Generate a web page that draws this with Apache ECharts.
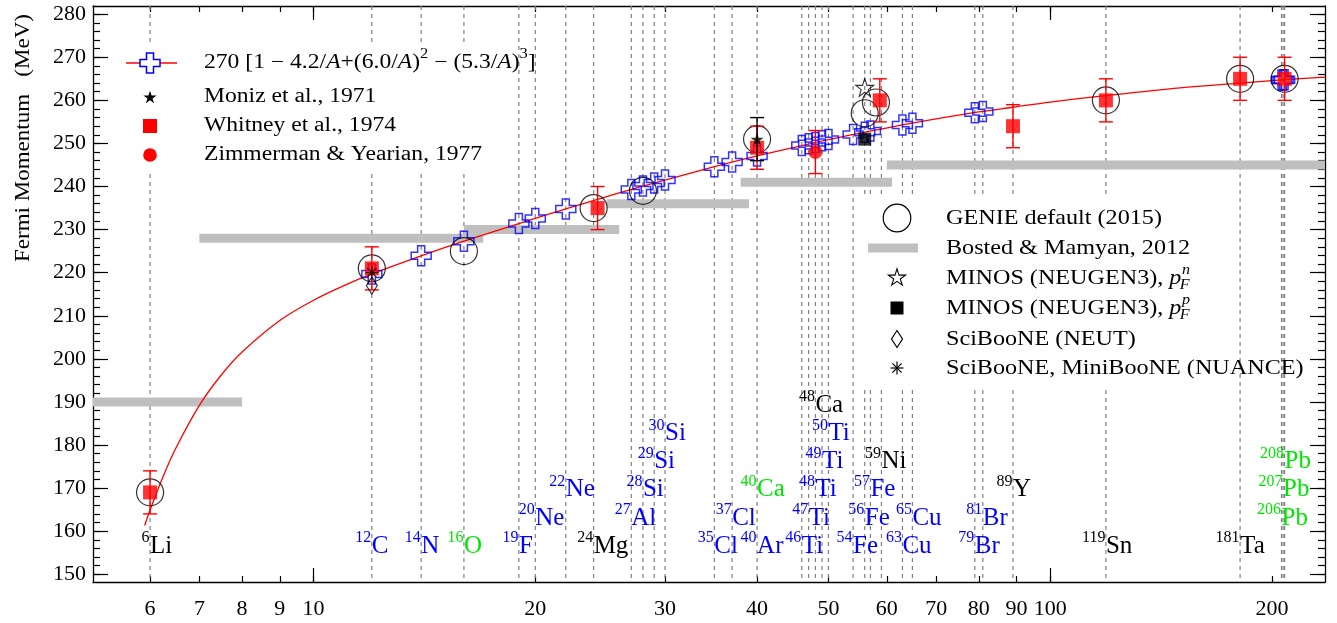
<!DOCTYPE html>
<html>
<head>
<meta charset="utf-8">
<title>Fermi momentum vs mass number</title>
<script src="https://cdn.jsdelivr.net/npm/echarts@6/dist/echarts.min.js"></script>
<style>
  html, body { margin: 0; padding: 0; background: #ffffff; }
  #chart { width: 1337px; height: 623px; }
</style>
</head>
<body>
<div id="chart"></div>
<script>
// ---------------- data ----------------
// nuclei marked along the mass-number axis
const isoA    = [6, 12, 14, 16, 19, 20, 22, 24, 27, 28, 29, 30, 35, 37, 40, 40, 46, 47, 48, 48, 49, 50, 54, 56, 57, 59, 63, 65, 79, 81, 89, 119, 181, 206, 207, 208];
const isoSym  = ['Li','C','N','O','F','Ne','Ne','Mg','Al','Si','Si','Si','Cl','Cl','Ar','Ca','Ti','Ti','Ti','Ca','Ti','Ti','Fe','Fe','Fe','Ni','Cu','Cu','Br','Br','Y','Sn','Ta','Pb','Pb','Pb'];
const isoKind = ['measured','fitted','fitted','reference','fitted','fitted','fitted','measured','fitted','fitted','fitted','fitted','fitted','fitted','fitted','reference','fitted','fitted','fitted','measured','fitted','fitted','fitted','fitted','fitted','measured','fitted','fitted','fitted','fitted','measured','measured','measured','reference','reference','reference'];

// parametrisation 270 [1 - 4.2/A + (6.0/A)^2 - (5.3/A)^3], sampled values
const fitCurveA = [5.9, 6, 6.25, 6.5, 7, 7.5, 8, 9, 10, 11, 12, 14, 16, 19, 22, 26, 30, 35, 40, 46, 50, 56, 63, 70, 80, 89, 100, 119, 150, 181, 208, 236];
const fitCurveP = [161.3, 164.9, 172.7, 179.2, 189.2, 196.3, 201.6, 208.9, 213.6, 217.0, 219.7, 223.9, 227.3, 231.4, 234.8, 238.5, 241.5, 244.6, 247.1, 249.5, 250.9, 252.6, 254.3, 255.7, 257.3, 258.4, 259.6, 261.1, 262.9, 264.0, 264.8, 265.4];

// parametrisation evaluated at individual nuclei
const fitNucA = [12, 14, 16, 19, 20, 22, 27, 28, 29, 30, 35, 37, 40, 46, 47, 48, 49, 50, 54, 56, 57, 63, 65, 79, 81, 206, 207, 208];
const fitNucP = [219.7, 223.9, 227.3, 231.4, 232.6, 234.8, 239.3, 240.1, 240.8, 241.5, 244.6, 245.7, 247.1, 249.5, 249.9, 250.2, 250.6, 250.9, 252.1, 252.6, 252.9, 254.3, 254.7, 257.1, 257.4, 264.7, 264.7, 264.8];

// Moniz et al., 1971
const monizA = [40];
const monizP = [251];
const monizErr = [5];

// Whitney et al., 1974
const whitneyA   = [6, 12, 24.3, 40, 58.7, 89, 119, 181, 208];
const whitneyP   = [169, 221, 235, 249, 260, 254, 260, 265, 265];
const whitneyErr = [5, 5, 5, 5, 5, 5, 5, 5, 5];

// Zimmerman & Yearian, 1977
const zimmermanA = [48];
const zimmermanP = [248];
const zimmermanErr = [5];

// GENIE default (2015)
const genieA = [6, 12, 16, 24, 28, 40, 56, 58, 119, 181, 208];
const genieP = [169, 221, 225, 235, 239, 251, 257, 259.5, 260, 265, 265];

// Bosted & Mamyan, 2012 (mass-number ranges)
const bostedFromA = [5, 7, 16, 25, 38, 60];
const bostedToA   = [8, 17, 26, 39, 61, 240];
const bostedP     = [190, 228, 230, 236, 241, 245];

// MINOS (NEUGEN3)
const minosNA = [56], minosNP = [263];
const minosPA = [56], minosPP = [251];

// SciBooNE (NEUT) and SciBooNE, MiniBooNE (NUANCE)
const neutA = [12], neutP = [217];
const nuanceA = [12], nuanceP = [220];

// axis ticks
const xTickLabels = [6, 7, 8, 9, 10, 20, 30, 40, 50, 60, 70, 80, 90, 100, 200];
const xDecadeTicks = [10, 100];
const yTickLabels = [150, 160, 170, 180, 190, 200, 210, 220, 230, 240, 250, 260, 270, 280];
const yMinorStep = 2;

// ---------------- layout & style ----------------
const X_MIN = 5.02, X_MAX = 236;
const Y_MIN = 148.2, Y_MAX = 281.9;
const FONT = '"Liberation Serif", "Times New Roman", serif';
const KIND_COLOR = { measured: '#000000', fitted: '#0000ff', reference: '#00e600' };
// vertical slot for each nucleus label (index into LABEL_ROW_VALUE)
const labelRow = [0,0,0,0,0,1,2,0,1,2,3,4,0,1,0,2,0,1,2,5,3,4,0,1,2,3,0,1,0,1,2,0,0,1,2,3];
const LABEL_ROW_VALUE = [156.5, 163.05, 169.6, 176.15, 182.7, 189.25];

const CROSS_PATH = 'path://M0,6.5H6.5V0H13.5V6.5H20V13.5H13.5V20H6.5V13.5H0Z';
const STAR_PATH = 'path://M50,0L61.8,35.1L98.1,35.1L68.8,56.7L79.4,91L50,70L20.6,91L31.2,56.7L1.9,35.1L38.2,35.1Z';
const ASTERISK_PATH = 'path://M10,0L10,20M0,10L20,10M2.93,2.93L17.07,17.07M2.93,17.07L17.07,2.93';

const pairs = (xs, ys) => xs.map((x, i) => [x, ys[i]]);
const minorY = [];
for (let v = yTickLabels[0]; v <= yTickLabels[yTickLabels.length - 1]; v += yMinorStep) minorY.push(v);
const log10 = v => Math.log10(v);

// ---------------- renderers ----------------
function renderGuide(params, api) {
  const cs = params.coordSys;
  const x = api.coord([api.value(0), Y_MIN])[0];
  return {
    type: 'line', silent: true,
    shape: { x1: x, y1: cs.y, x2: x, y2: cs.y + cs.height },
    style: { stroke: '#808080', lineWidth: 1.2, lineDash: [4, 4] }
  };
}

function renderBand(params, api) {
  const p0 = api.coord([api.value(0), api.value(2)]);
  const p1 = api.coord([api.value(1), api.value(2)]);
  return {
    type: 'rect',
    shape: { x: p0[0], y: p0[1] - 4.5, width: p1[0] - p0[0], height: 9 },
    style: { fill: '#bfbfbf' }
  };
}

function makeErrorRenderer(color) {
  return function (params, api) {
    const a = api.value(0);
    const lo = api.coord([a, api.value(1)]);
    const hi = api.coord([a, api.value(2)]);
    const cap = 7;
    const st = { stroke: color, lineWidth: 1.4 };
    return {
      type: 'group',
      children: [
        { type: 'line', shape: { x1: lo[0], y1: lo[1], x2: hi[0], y2: hi[1] }, style: st },
        { type: 'line', shape: { x1: lo[0] - cap, y1: lo[1], x2: lo[0] + cap, y2: lo[1] }, style: st },
        { type: 'line', shape: { x1: hi[0] - cap, y1: hi[1], x2: hi[0] + cap, y2: hi[1] }, style: st }
      ]
    };
  };
}

function renderNucleus(params, api) {
  const i = api.value(2);
  const p = api.coord([api.value(0), api.value(1)]);
  const col = KIND_COLOR[isoKind[i]];
  return {
    type: 'group',
    children: [
      { type: 'text', x: p[0] - 0.5, y: p[1] - 8,
        style: { text: String(isoA[i]), font: '16px ' + FONT, fill: col, textAlign: 'right', textVerticalAlign: 'middle' } },
      { type: 'text', x: p[0], y: p[1],
        style: { text: isoSym[i], font: '25px ' + FONT, fill: col, textAlign: 'left', textVerticalAlign: 'middle' } }
    ]
  };
}

const errData = (xs, ys, es) => xs.map((x, i) => [x, ys[i] - es[i], ys[i] + es[i]]);

// ---------------- legend drawing helpers ----------------
const mctx = document.createElement('canvas').getContext('2d');
function textWidth(str, font) { mctx.font = font; return mctx.measureText(str).width; }

// lays out text pieces one after another on a row
function textRun(pieces, y) {
  let x = 0;
  const out = [];
  pieces.forEach(p => {
    out.push({ type: 'text', x: x, y: y + (p.dy || 0), z: 101,
      style: { text: p.t, font: p.font, fill: '#000', textAlign: 'left', textVerticalAlign: 'middle' } });
    x += textWidth(p.t, p.font);
  });
  return out;
}

function crossPoints(cx, cy, s) {
  const h = s / 2, w = s * 0.175;
  return [[-w,-h],[w,-h],[w,-w],[h,-w],[h,w],[w,w],[w,h],[-w,h],[-w,w],[-h,w],[-h,-w],[-w,-w]].map(p => [cx + p[0], cy + p[1]]);
}
function starPoints(cx, cy, R) {
  const pts = [];
  for (let k = 0; k < 10; k++) {
    const r = k % 2 === 0 ? R : R * 0.382;
    const ang = -Math.PI / 2 + k * Math.PI / 5;
    pts.push([cx + r * Math.cos(ang), cy + r * Math.sin(ang) + R * 0.1]);
  }
  return pts;
}
function asteriskLines(cx, cy, r) {
  const d = r * Math.SQRT1_2;
  return [[0, -r, 0, r], [-r, 0, r, 0], [-d, -d, d, d], [-d, d, d, -d]].map(s => ({
    type: 'line', z: 101, shape: { x1: cx + s[0], y1: cy + s[1], x2: cx + s[2], y2: cy + s[3] },
    style: { stroke: '#000', lineWidth: 1.2 }
  }));
}

const F1 = '20px ' + FONT, F1I = 'italic 20px ' + FONT, F1S = '14px ' + FONT;
const F2 = '21px ' + FONT, F2I = 'italic 21px ' + FONT, F2S = 'italic 14px ' + FONT;

// upper-left legend
const L1X = 150, L1T = 204;
const L1Y = [63, 97, 126, 155];
const legend1Text = [].concat(
  textRun([
    { t: '270 [1 \u2212 4.2/', font: F1 }, { t: 'A', font: F1I }, { t: '+(6.0/', font: F1 }, { t: 'A', font: F1I },
    { t: ')', font: F1 }, { t: '2', font: F1S, dy: -9 }, { t: ' \u2212 (5.3/', font: F1 }, { t: 'A', font: F1I },
    { t: ')', font: F1 }, { t: '3', font: F1S, dy: -9 }, { t: ']', font: F1 }
  ], L1Y[0]),
  textRun([{ t: 'Moniz et al., 1971', font: F1 }], L1Y[1]),
  textRun([{ t: 'Whitney et al., 1974', font: F1 }], L1Y[2]),
  textRun([{ t: 'Zimmerman & Yearian, 1977', font: F1 }], L1Y[3])
);

// right legend
const L2X = 897, L2T = 946;
const L2Y = [218, 248, 278, 308, 339, 368];
function minosLabel(flavour, y) {
  const base = 'MINOS (NEUGEN3), ';
  const px = textWidth(base, F2) + textWidth('p', F2I);
  return textRun([{ t: base, font: F2 }, { t: 'p', font: F2I }], y).concat([
    { type: 'text', x: px + 0.5, y: y - 8, z: 101, style: { text: flavour, font: F2S, fill: '#000', textAlign: 'left', textVerticalAlign: 'middle' } },
    { type: 'text', x: px - 1.5, y: y + 7, z: 101, style: { text: 'F', font: F2S, fill: '#000', textAlign: 'left', textVerticalAlign: 'middle' } }
  ]);
}
const legend2Text = [].concat(
  textRun([{ t: 'GENIE default (2015)', font: F2 }], L2Y[0]),
  textRun([{ t: 'Bosted & Mamyan, 2012', font: F2 }], L2Y[1]),
  minosLabel('n', L2Y[2]),
  minosLabel('p', L2Y[3]),
  textRun([{ t: 'SciBooNE (NEUT)', font: F2 }], L2Y[4]),
  textRun([{ t: 'SciBooNE, MiniBooNE (NUANCE)', font: F2 }], L2Y[5])
);

const graphicElements = [
  // legend backgrounds
  { type: 'rect', z: 100, shape: { x: 108, y: 42, width: 404, height: 132 }, style: { fill: '#ffffff' } },
  { type: 'rect', z: 100, shape: { x: 856, y: 194, width: 378, height: 194 }, style: { fill: '#ffffff' } },

  // upper-left legend symbols
  { type: 'line', z: 101, shape: { x1: L1X - 24, y1: L1Y[0], x2: L1X + 27, y2: L1Y[0] }, style: { stroke: '#ff0000', lineWidth: 1.3 } },
  { type: 'polygon', z: 102, shape: { points: crossPoints(L1X, L1Y[0], 20) }, style: { fill: '#ffffff', stroke: '#0000ff', lineWidth: 1.5 } },
  { type: 'polygon', z: 101, shape: { points: starPoints(L1X, L1Y[1], 7) }, style: { fill: '#000000' } },
  { type: 'rect', z: 101, shape: { x: L1X - 7, y: L1Y[2] - 7, width: 14, height: 14 }, style: { fill: '#ff0000' } },
  { type: 'circle', z: 101, shape: { cx: L1X, cy: L1Y[3], r: 6.8 }, style: { fill: '#ff0000' } },
  { type: 'group', x: L1T, y: 0, scaleX: 1.18, children: legend1Text },

  // right legend symbols
  { type: 'circle', z: 101, shape: { cx: L2X, cy: L2Y[0], r: 13.8 }, style: { fill: 'none', stroke: '#000', lineWidth: 1.2 } },
  { type: 'rect', z: 101, shape: { x: L2X - 29, y: L2Y[1] - 4.5, width: 50, height: 9 }, style: { fill: '#bfbfbf' } },
  { type: 'polygon', z: 101, shape: { points: starPoints(L2X, L2Y[2] - 1, 9) }, style: { fill: '#ffffff', stroke: '#000', lineWidth: 1.1 } },
  { type: 'rect', z: 101, shape: { x: L2X - 6.5, y: L2Y[3] - 6.5, width: 13, height: 13 }, style: { fill: '#000000' } },
  { type: 'polygon', z: 101, shape: { points: [[L2X, L2Y[4] - 8.5], [L2X + 5.5, L2Y[4]], [L2X, L2Y[4] + 8.5], [L2X - 5.5, L2Y[4]]] }, style: { fill: '#ffffff', stroke: '#000', lineWidth: 1.2 } }
].concat(asteriskLines(L2X, L2Y[5], 6.5), [
  { type: 'group', x: L2T, y: 0, scaleX: 1.15, children: legend2Text },

  // y-axis title
  { type: 'text', x: 24, y: 138, rotation: Math.PI / 2, scaleX: 1.15, z: 101,
    style: { text: 'Fermi Momentum   (MeV)', font: '20px ' + FONT, fill: '#000', textAlign: 'center', textVerticalAlign: 'middle' } }
]);

// ---------------- axes ----------------
const axisLineStyle = { color: '#000', width: 1.3 };
const tickStyle = { color: '#000', width: 1.2 };
const xLogExtent = { min: log10(X_MIN), max: log10(X_MAX) };
function decoX(position, tickLen, ticks, withLine, withLabels) {
  return {
    type: 'value', gridIndex: 0, position: position, min: xLogExtent.min, max: xLogExtent.max,
    axisLine: { show: withLine, onZero: false, lineStyle: axisLineStyle },
    axisTick: { show: true, inside: true, length: tickLen, customValues: ticks.map(log10), lineStyle: tickStyle },
    axisLabel: withLabels ? {
      show: true, customValues: xTickLabels.map(log10), margin: 16,
      formatter: v => String(Math.round(Math.pow(10, v))),
      fontFamily: FONT, fontSize: 22, color: '#000'
    } : { show: false },
    splitLine: { show: false }
  };
}
function decoY(position, tickLen, ticks, withLine, withLabels) {
  return {
    type: 'value', gridIndex: 0, position: position, min: Y_MIN, max: Y_MAX,
    axisLine: { show: withLine, onZero: false, lineStyle: axisLineStyle },
    axisTick: { show: true, inside: true, length: tickLen, customValues: ticks, lineStyle: tickStyle },
    axisLabel: withLabels ? {
      show: true, customValues: yTickLabels, margin: 7,
      fontFamily: FONT, fontSize: 22, color: '#000'
    } : { show: false },
    splitLine: { show: false }
  };
}

const option = {
  animation: false,
  backgroundColor: '#ffffff',
  grid: { left: 93, right: 12, top: 6, bottom: 41 },
  xAxis: [
    { type: 'log', logBase: 10, min: X_MIN, max: X_MAX, show: false, gridIndex: 0 },
    decoX('bottom', 6, xTickLabels, true, true),
    decoX('bottom', 14, xDecadeTicks, false, false),
    decoX('top', 6, xTickLabels, true, false),
    decoX('top', 14, xDecadeTicks, false, false)
  ],
  yAxis: [
    decoY('left', 15, yTickLabels, true, true),
    decoY('left', 7, minorY, false, false),
    decoY('right', 15, yTickLabels, true, false),
    decoY('right', 7, minorY, false, false)
  ],
  graphic: { elements: graphicElements },
  series: [
    { name: 'guides', type: 'custom', z: 1, silent: true, renderItem: renderGuide,
      data: [...new Set(isoA)].map(a => [a, Y_MIN]), encode: { x: 0, y: 1 } },
    { name: 'Bosted & Mamyan, 2012', type: 'custom', z: 2, clip: true, renderItem: renderBand,
      data: bostedFromA.map((a, i) => [a, bostedToA[i], bostedP[i]]), encode: { x: [0, 1], y: 2 } },
    { name: 'fit', type: 'line', z: 3, smooth: 0.35, symbol: 'none', clip: true,
      lineStyle: { color: '#ff0000', width: 1.3 }, data: pairs(fitCurveA, fitCurveP) },
    { name: 'fit at nuclei', type: 'scatter', z: 4, symbol: CROSS_PATH, symbolSize: 20,
      itemStyle: { color: 'transparent', borderColor: '#0000ff', borderWidth: 1.5 }, data: pairs(fitNucA, fitNucP) },
    { name: 'GENIE default (2015)', type: 'scatter', z: 5, symbol: 'circle', symbolSize: 27,
      itemStyle: { color: 'transparent', borderColor: '#000', borderWidth: 1.2 }, data: pairs(genieA, genieP) },
    { name: 'Whitney errors', type: 'custom', z: 6, renderItem: makeErrorRenderer('#ff0000'),
      data: errData(whitneyA, whitneyP, whitneyErr), encode: { x: 0, y: [1, 2] } },
    { name: 'Zimmerman errors', type: 'custom', z: 6, renderItem: makeErrorRenderer('#ff0000'),
      data: errData(zimmermanA, zimmermanP, zimmermanErr), encode: { x: 0, y: [1, 2] } },
    { name: 'Whitney et al., 1974', type: 'scatter', z: 7, symbol: 'rect', symbolSize: 14,
      itemStyle: { color: '#ff0000' }, data: pairs(whitneyA, whitneyP) },
    { name: 'Zimmerman & Yearian, 1977', type: 'scatter', z: 7, symbol: 'circle', symbolSize: 14,
      itemStyle: { color: '#ff0000' }, data: pairs(zimmermanA, zimmermanP) },
    { name: 'Moniz errors', type: 'custom', z: 8, renderItem: makeErrorRenderer('#000000'),
      data: errData(monizA, monizP, monizErr), encode: { x: 0, y: [1, 2] } },
    { name: 'Moniz et al., 1971', type: 'scatter', z: 8, symbol: STAR_PATH, symbolSize: 13,
      itemStyle: { color: '#000' }, data: pairs(monizA, monizP) },
    { name: 'MINOS pn', type: 'scatter', z: 8, symbol: STAR_PATH, symbolSize: 18,
      itemStyle: { color: 'transparent', borderColor: '#000', borderWidth: 1.1 }, data: pairs(minosNA, minosNP) },
    { name: 'MINOS pp', type: 'scatter', z: 8, symbol: 'rect', symbolSize: 13,
      itemStyle: { color: '#000' }, data: pairs(minosPA, minosPP) },
    { name: 'SciBooNE (NEUT)', type: 'scatter', z: 9, symbol: 'diamond', symbolSize: [11, 17],
      itemStyle: { color: 'transparent', borderColor: '#000', borderWidth: 1.2 }, data: pairs(neutA, neutP) },
    { name: 'SciBooNE, MiniBooNE (NUANCE)', type: 'scatter', z: 9, symbol: ASTERISK_PATH, symbolSize: 13,
      itemStyle: { color: 'transparent', borderColor: '#000', borderWidth: 1.2 }, data: pairs(nuanceA, nuanceP) },
    { name: 'nuclei', type: 'custom', z: 9, renderItem: renderNucleus,
      data: isoA.map((a, i) => [a, LABEL_ROW_VALUE[labelRow[i]], i]), encode: { x: 0, y: 1 } }
  ]
};

const chart = echarts.init(document.getElementById('chart'), null, { renderer: 'canvas' });
chart.setOption(option);
</script>
</body>
</html>
